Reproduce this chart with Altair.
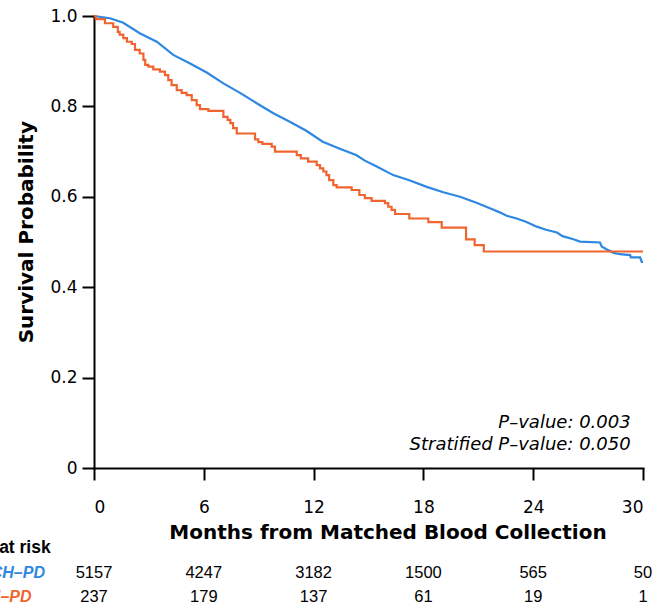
import altair as alt
import pandas as pd

# ---- data ----
blue_months = [0, 0.87, 1.6, 2.5, 3.43, 4.33, 5.25, 6.16, 7.07, 7.98, 8.89, 9.8, 10.7, 11.6,
               12.5, 13.4, 14.35, 14.8, 15.45, 16.35, 17.27, 18.18, 19.09, 20.0, 20.9, 21.8,
               22.2, 22.55, 23.1, 23.6, 24.2, 24.7, 25.3, 25.6, 26.2, 26.56, 27.65, 27.74,
               28.0, 28.4, 28.74, 29.3, 29.33, 29.84, 29.93, 30.0]
blue_surv = [1.0, 0.995, 0.985, 0.962, 0.943, 0.914, 0.895, 0.875, 0.851, 0.830, 0.807, 0.785,
             0.766, 0.746, 0.722, 0.707, 0.692, 0.680, 0.667, 0.648, 0.636, 0.622, 0.610, 0.600,
             0.587, 0.572, 0.565, 0.558, 0.552, 0.545, 0.534, 0.527, 0.521, 0.513, 0.506, 0.501,
             0.499, 0.490, 0.484, 0.476, 0.473, 0.471, 0.466, 0.466, 0.456, 0.456]

orange_months = [0, 0.1, 0.6, 1.05, 1.3, 1.4, 1.6, 1.8, 2.06, 2.24, 2.5, 2.7, 2.8, 2.97, 3.24,
                 3.6, 3.88, 4.06, 4.24, 4.52, 4.79, 5.06, 5.34, 5.61, 5.79, 6.25, 7.07, 7.3,
                 7.45, 7.6, 7.8, 8.8, 8.98, 9.2, 9.71, 9.89, 11.08, 11.3, 11.7, 12.17, 12.35,
                 12.53, 12.7, 12.85, 13.08, 13.26, 14.08, 14.5, 14.8, 15.17, 15.9, 16.08, 16.26,
                 16.45, 17.23, 18.27, 19.0, 20.33, 20.8, 21.3, 30.0]
orange_surv = [1.0, 0.993, 0.984, 0.976, 0.965, 0.959, 0.951, 0.943, 0.938, 0.925, 0.917, 0.903,
               0.892, 0.888, 0.882, 0.877, 0.869, 0.858, 0.847, 0.836, 0.830, 0.825, 0.814, 0.803,
               0.794, 0.790, 0.777, 0.770, 0.763, 0.752, 0.740, 0.727, 0.721, 0.717, 0.711, 0.700,
               0.692, 0.685, 0.678, 0.670, 0.663, 0.656, 0.648, 0.637, 0.626, 0.621, 0.615, 0.604,
               0.597, 0.591, 0.586, 0.578, 0.571, 0.562, 0.552, 0.544, 0.532, 0.506, 0.493, 0.479,
               0.479]

risk_months = [0, 6, 12, 18, 24, 30]
risk_blue = [5157, 4247, 3182, 1500, 565, 50]
risk_orange = [237, 179, 137, 61, 19, 1]

y_ticks = [0, 0.2, 0.4, 0.6, 0.8, 1.0]
group_blue = "No CH–PD"
group_orange = "CH–PD"
header = "Number at risk"
p_texts = ["P–value: 0.003", "Stratified P–value: 0.050"]
p_y = [0.1004, 0.0502]

BLUE = "#2E87E0"
ORANGE = "#EF6530"

blue_df = pd.DataFrame({"month": blue_months, "surv": blue_surv})
orange_df = pd.DataFrame({"month": orange_months, "surv": orange_surv})
rows = ["header", "blue", "orange"]
risk_df = pd.DataFrame({
    "month": risk_months + risk_months,
    "row": ["blue"] * len(risk_months) + ["orange"] * len(risk_months),
    "count": [str(v) for v in risk_blue + risk_orange],
})
p_df = pd.DataFrame({"text": p_texts, "surv": p_y, "month": [30, 30]})

xscale = alt.Scale(domain=[0, 30], nice=False, zero=False)
yscale = alt.Scale(domain=[0, 1], nice=False)

x_enc = alt.X("month:Q", scale=xscale,
              axis=alt.Axis(values=risk_months, title="Months from Matched Blood Collection",
                            labelPadding=19, titleX=293.5, titleY=64,
                            titleBaseline="middle", titleAlign="center"))
y_enc = alt.Y("surv:Q", scale=yscale,
              axis=alt.Axis(values=y_ticks, title="Survival Probability",
                            labelExpr="datum.value == 0 ? '0' : format(datum.value, '.1f')",
                            labelPadding=5, titleX=-62, titleY=215.7, titleAngle=270,
                            titleBaseline="alphabetic", titleAlign="center"))

blue_line = alt.Chart(blue_df).mark_line(color=BLUE, strokeWidth=2.2).encode(x=x_enc, y=y_enc)
orange_line = alt.Chart(orange_df).mark_line(
    color=ORANGE, strokeWidth=2.2, interpolate="step-after").encode(x="month:Q", y="surv:Q")
p_text = alt.Chart(p_df).mark_text(
    align="right", baseline="middle", dx=-12.3, font="DejaVu Sans", fontSize=18,
    fontStyle="italic", color="black").encode(x="month:Q", y="surv:Q", text="text:N")

main = alt.layer(blue_line, orange_line, p_text)

row_y = alt.Y("row:N", scale=alt.Scale(type="point", domain=rows, range=[532, 581], padding=0),
              axis=None)

risk_nums = alt.Chart(risk_df).mark_text(
    align="center", baseline="middle", font="Liberation Sans", fontSize=16.5, color="black"
).encode(x="month:Q", y=row_y, text="count:N")

lab_header = alt.Chart(pd.DataFrame({"row": ["header"], "t": [header], "month": [0]})).mark_text(
    align="right", baseline="middle", dx=-43.3, font="Liberation Sans", fontSize=17.5,
    fontWeight="bold", color="black").encode(x="month:Q", y=row_y, text="t:N")
lab_blue = alt.Chart(pd.DataFrame({"row": ["blue"], "t": [group_blue], "month": [0]})).mark_text(
    align="right", baseline="middle", dx=-49, font="Liberation Sans", fontSize=16,
    fontWeight="bold", fontStyle="italic", color=BLUE).encode(x="month:Q", y=row_y, text="t:N")
lab_orange = alt.Chart(pd.DataFrame({"row": ["orange"], "t": [group_orange], "month": [0]})).mark_text(
    align="right", baseline="middle", dx=-62.5, font="Liberation Sans", fontSize=16,
    fontWeight="bold", fontStyle="italic", color=ORANGE).encode(x="month:Q", y=row_y, text="t:N")

risk = alt.layer(risk_nums, lab_header, lab_blue, lab_orange)

chart = alt.layer(main, risk).resolve_scale(y="independent").properties(
    width=549, height=452,
    autosize=alt.AutoSizeParams(type="none"),
    padding={"left": 94, "top": 16, "right": 11, "bottom": 141},
).configure_view(stroke=None).configure_axis(
    domainColor="black", domainWidth=2, tickColor="black", tickWidth=2, tickSize=12,
    grid=False, labelFont="DejaVu Sans", labelFontSize=17, labelColor="black",
    titleFont="DejaVu Sans", titleFontSize=20, titleFontWeight="bold", titleColor="black",
    domainCap="square"
)

chart.save("out.html", embed_options={"renderer": "svg", "actions": False})
